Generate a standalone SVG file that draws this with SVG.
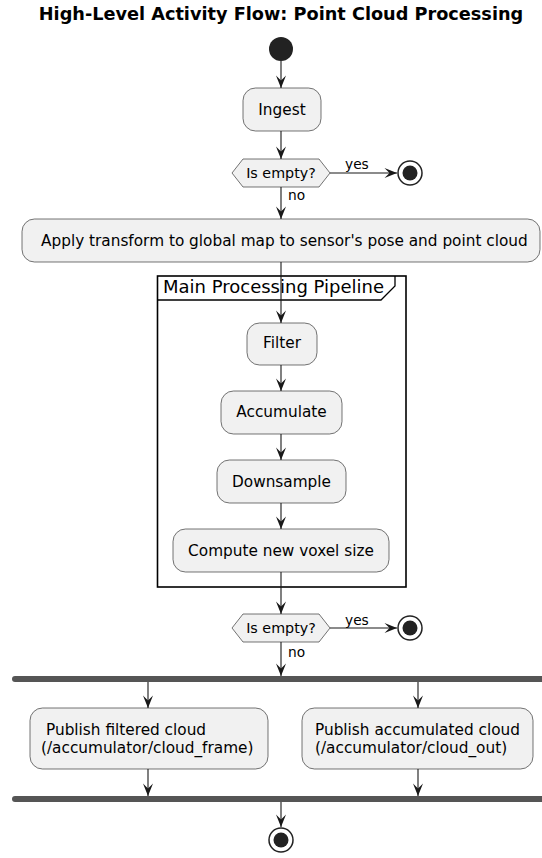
<svg xmlns="http://www.w3.org/2000/svg" width="542" height="858" viewBox="0 0 542 858">
  <style>
    text { font-family: "DejaVu Sans", "Liberation Sans", sans-serif; fill: #000; }
    .title { font-size: 17.7px; font-weight: bold; }
    .act { fill: #F1F1F1; stroke: #181818; stroke-width: 0.6; }
    .label { font-size: 15.3px; }
    .dec { font-size: 14.3px; }
    .guard { font-size: 13.75px; }
    .frame { fill: none; stroke: #000; stroke-width: 1.6; }
    .bar { fill: #555555; }
    .edge { fill: none; stroke: #181818; stroke-width: 1.1; }
  </style>
  <defs>
    <marker id="arrow" viewBox="-13 -6 14 12" refX="0" refY="0" markerWidth="14" markerHeight="12" markerUnits="userSpaceOnUse" orient="auto">
      <path d="M0,0 L-12.5,-5 L-7.5,0 L-12.5,5 Z" fill="#181818"/>
    </marker>
  </defs>

  <rect width="542" height="858" fill="#FFFFFF"/>

  <text class="title" x="281" y="20" text-anchor="middle">High-Level Activity Flow: Point Cloud Processing</text>

  <!-- partition frame -->
  <g id="pipeline">
    <rect class="frame" x="157.5" y="276" width="248.5" height="311"/>
    <path d="M157.5,300 H381 L395,286 V276" fill="none" stroke="#000" stroke-width="1.3"/>
    <text x="163" y="293" style="font-size:18px">Main Processing Pipeline</text>
  </g>

  <!-- connectors -->
  <g id="edges">
    <line class="edge" x1="281" y1="61" x2="281" y2="88" marker-end="url(#arrow)"/>
    <line class="edge" x1="281" y1="131" x2="281" y2="159" marker-end="url(#arrow)"/>
    <line class="edge" x1="330" y1="173" x2="397" y2="173" marker-end="url(#arrow)"/>
    <text class="guard" x="345" y="169">yes</text>
    <line class="edge" x1="281" y1="187" x2="281" y2="219" marker-end="url(#arrow)"/>
    <text class="guard" x="288" y="200">no</text>
    <line class="edge" x1="281" y1="262" x2="281" y2="323" marker-end="url(#arrow)"/>
    <line class="edge" x1="281" y1="365" x2="281" y2="391" marker-end="url(#arrow)"/>
    <line class="edge" x1="281" y1="434" x2="281" y2="460" marker-end="url(#arrow)"/>
    <line class="edge" x1="281" y1="503" x2="281" y2="529" marker-end="url(#arrow)"/>
    <line class="edge" x1="281" y1="572" x2="281" y2="614" marker-end="url(#arrow)"/>
    <line class="edge" x1="330" y1="628" x2="397" y2="628" marker-end="url(#arrow)"/>
    <text class="guard" x="345" y="625">yes</text>
    <line class="edge" x1="281" y1="642" x2="281" y2="676" marker-end="url(#arrow)"/>
    <text class="guard" x="288" y="657">no</text>
    <line class="edge" x1="148" y1="682" x2="148" y2="708" marker-end="url(#arrow)"/>
    <line class="edge" x1="418" y1="682" x2="418" y2="708" marker-end="url(#arrow)"/>
    <line class="edge" x1="148" y1="769" x2="148" y2="796" marker-end="url(#arrow)"/>
    <line class="edge" x1="418" y1="769" x2="418" y2="796" marker-end="url(#arrow)"/>
    <line class="edge" x1="281" y1="802" x2="281" y2="827" marker-end="url(#arrow)"/>
  </g>

  <g id="start">
    <circle cx="281" cy="49" r="12" fill="#222222"/>
  </g>

  <g id="ingest">
    <rect class="act" x="243" y="88" width="78" height="43" rx="12.5"/>
    <text class="label" x="282" y="115" text-anchor="middle">Ingest</text>
  </g>

  <g id="check-input">
    <polygon class="act" points="232,173 243,159 319,159 330,173 319,187 243,187"/>
    <text class="dec" x="281" y="178" text-anchor="middle">Is empty?</text>
  </g>

  <g id="stop-input">
    <circle cx="410" cy="173" r="12" fill="#FFFFFF" stroke="#222222" stroke-width="1.5"/>
    <circle cx="410" cy="173" r="7.5" fill="#222222"/>
  </g>

  <g id="transform">
    <rect class="act" x="22" y="219" width="518" height="43" rx="12.5"/>
    <text class="label" x="41" y="246">Apply transform to global map to sensor's pose and point cloud</text>
  </g>

  <g id="filter">
    <rect class="act" x="247" y="323" width="70" height="42" rx="12.5"/>
    <text class="label" x="282" y="348" text-anchor="middle">Filter</text>
  </g>

  <g id="accumulate">
    <rect class="act" x="221" y="391" width="121" height="43" rx="12.5"/>
    <text class="label" x="281.5" y="417" text-anchor="middle">Accumulate</text>
  </g>

  <g id="downsample">
    <rect class="act" x="217" y="460" width="129" height="43" rx="12.5"/>
    <text class="label" x="281.5" y="487" text-anchor="middle">Downsample</text>
  </g>

  <g id="voxel-size">
    <rect class="act" x="173" y="529" width="216" height="43" rx="12.5"/>
    <text class="label" x="281" y="556" text-anchor="middle">Compute new voxel size</text>
  </g>

  <g id="check-output">
    <polygon class="act" points="232,628 243,614 319,614 330,628 319,642 243,642"/>
    <text class="dec" x="281" y="633" text-anchor="middle">Is empty?</text>
  </g>

  <g id="stop-output">
    <circle cx="410" cy="628" r="12" fill="#FFFFFF" stroke="#222222" stroke-width="1.5"/>
    <circle cx="410" cy="628" r="7.5" fill="#222222"/>
  </g>

  <g id="fork">
    <rect class="bar" x="12" y="676" width="536" height="6" rx="3"/>
  </g>

  <g id="publish-frame">
    <rect class="act" x="30" y="708" width="238" height="61" rx="12.5"/>
    <text class="label" x="46" y="735">Publish filtered cloud</text>
    <text class="label" x="41" y="753">(/accumulator/cloud_frame)</text>
  </g>

  <g id="publish-accumulated">
    <rect class="act" x="302" y="708" width="231" height="61" rx="12.5"/>
    <text class="label" x="315" y="735">Publish accumulated cloud</text>
    <text class="label" x="315" y="753">(/accumulator/cloud_out)</text>
  </g>

  <g id="join">
    <rect class="bar" x="12" y="796" width="536" height="6" rx="3"/>
  </g>

  <g id="end">
    <circle cx="281" cy="840" r="12" fill="#FFFFFF" stroke="#222222" stroke-width="1.5"/>
    <circle cx="281" cy="840" r="7.5" fill="#222222"/>
  </g>
</svg>
